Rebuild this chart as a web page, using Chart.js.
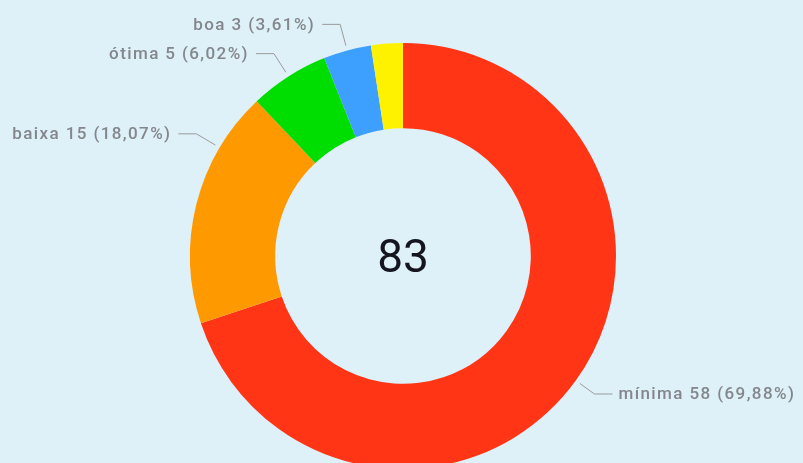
<!DOCTYPE html>
<html>
<head>
<meta charset="utf-8">
<script src="https://cdn.jsdelivr.net/npm/chart.js@4/dist/chart.umd.min.js"></script>
<style>
  html, body { margin: 0; padding: 0; background: #DEF0F8; overflow: hidden; }
  #wrap { position: relative; width: 803px; height: 480px; }
</style>
</head>
<body>
<div id="wrap"><canvas id="c"></canvas></div>
<script>
// ---- data ----
const categories = ['mínima', 'baixa', 'ótima', 'boa', 'excelente'];
const values = [58, 15, 5, 3, 2];
const showLabel = [true, true, true, true, false];
const colors = ['#FF3516', '#FF9900', '#00DD00', '#3DA0FF', '#FFF200'];

const total = values.reduce((a, b) => a + b, 0);

const labelPlugin = {
  id: 'pbiLabels',
  afterDatasetsDraw(chart, args, opts) {
    const ctx = chart.ctx;
    const meta = chart.getDatasetMeta(0);
    ctx.save();
    meta.data.forEach((arc, i) => {
      if (!showLabel[i]) return;
      const p = arc.getProps(['x', 'y', 'startAngle', 'endAngle', 'outerRadius'], true);
      let a = (p.startAngle + p.endAngle) / 2 + ((opts.angleShift[i] || 0) * Math.PI / 180);
      const r0 = p.outerRadius + 5;
      const r1 = p.outerRadius + (opts.elbow[i] || 27);
      const sx = p.x + Math.cos(a) * r0, sy = p.y + Math.sin(a) * r0;
      const ex = p.x + Math.cos(a) * r1, ey = p.y + Math.sin(a) * r1;
      const right = Math.cos(a) >= 0;
      const hx = ex + (right ? 18 : -18);
      ctx.strokeStyle = '#9a9a9a';
      ctx.lineWidth = 1;
      ctx.beginPath();
      ctx.moveTo(sx, sy); ctx.lineTo(ex, ey); ctx.lineTo(hx, ey);
      ctx.stroke();
      const pct = (values[i] / total * 100).toFixed(2).replace('.', ',');
      const txt = categories[i] + ' ' + values[i] + ' (' + pct + '%)';
      ctx.font = '500 17px Roboto';
      ctx.letterSpacing = '1.4px';
      ctx.fillStyle = '#83868a';
      ctx.textBaseline = 'middle';
      ctx.textAlign = right ? 'left' : 'right';
      ctx.fillText(txt, hx + (right ? 6 : -7), ey + 1);
    });
    // center total
    const a0 = meta.data[0];
    ctx.letterSpacing = '0px';
    ctx.font = '400 46px Roboto';
    ctx.fillStyle = '#15151f';
    ctx.textAlign = 'center';
    ctx.textBaseline = 'middle';
    ctx.fillText(String(total), a0.x, a0.y + 4);
    ctx.restore();
  }
};

new Chart(document.getElementById('c'), {
  type: 'doughnut',
  data: {
    labels: categories,
    datasets: [{
      data: values,
      backgroundColor: colors,
      borderWidth: 0,
      hoverOffset: 0
    }]
  },
  options: {
    responsive: true,
    maintainAspectRatio: false,
    animation: false,
    cutout: '60%',
    layout: { padding: { left: 3, right: 0, top: 43, bottom: 11 } },
    plugins: {
      legend: { display: false },
      tooltip: { enabled: false },
      pbiLabels: { angleShift: { 1: 16.5 }, elbow: { 0: 23 } }
    }
  },
  plugins: [labelPlugin]
});
</script>
</body>
</html>
